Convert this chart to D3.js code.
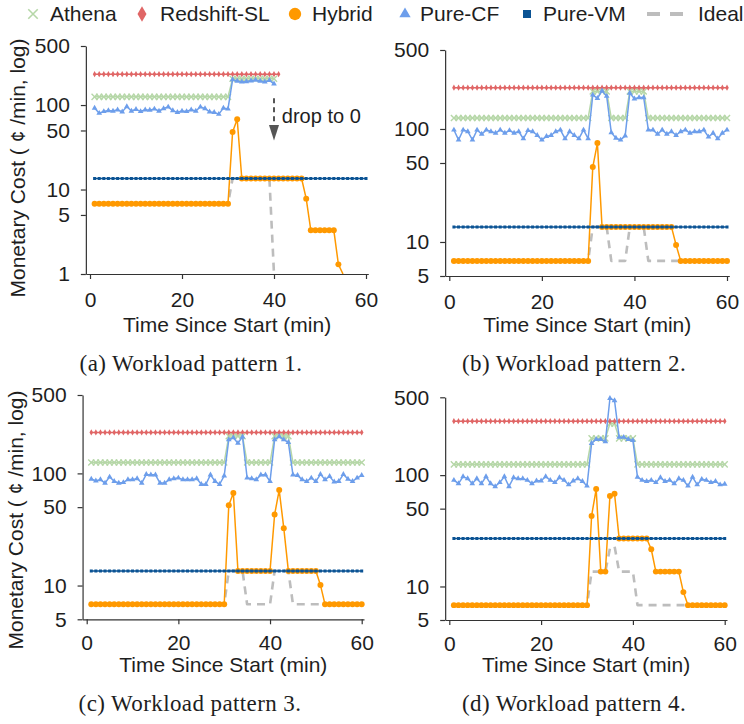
<!DOCTYPE html>
<html><head><meta charset="utf-8">
<script src="https://cdn.jsdelivr.net/npm/d3@7"></script>
<style>
body{margin:0;background:#fff;}
svg{display:block;font-family:"Liberation Sans",Arial,sans-serif;}
</style></head><body>
<svg id="c" width="744" height="724"></svg>
<script>
const N = null;
const minutes = [1,2,3,4,5,6,7,8,9,10,11,12,13,14,15,16,17,18,19,20,
21,22,23,24,25,26,27,28,29,30,31,32,33,34,35,36,37,38,39,40,
41,42,43,44,45,46,47,48,49,50,51,52,53,54,55,56,57,58,59,60];
const xTicks = [0,20,40,60];
const yTicksA = [1,5,10,50,100,500];
const yTicksB = [5,10,50,100,500];
const seriesNames = ["Athena","Redshift-SL","Hybrid","Pure-CF","Pure-VM","Ideal"];

// ---- Panel (a) ----
const athA = [125,125,125,125,125,125,125,125,125,125,
125,125,125,125,125,125,125,125,125,125,
125,125,125,125,125,125,125,125,125,125,
205,205,205,205,205,205,205,205,205,205,
N,N,N,N,N,N,N,N,N,N,
N,N,N,N,N,N,N,N,N,N];
const redA = [232,232,232,232,232,232,232,232,232,232,
232,232,232,232,232,232,232,232,232,232,
232,232,232,232,232,232,232,232,232,232,
232,232,232,232,232,232,232,232,232,232,
232,N,N,N,N,N,N,N,N,N,
N,N,N,N,N,N,N,N,N,N];
const hybA = [6.8,6.8,6.8,6.8,6.8,6.8,6.8,6.8,6.8,6.8,
6.8,6.8,6.8,6.8,6.8,6.8,6.8,6.8,6.8,6.8,
6.8,6.8,6.8,6.8,6.8,6.8,6.8,6.8,6.8,6.8,
48,68,13.5,13.5,13.5,13.5,13.5,13.5,13.5,13.5,
13.5,13.5,13.5,13.5,13.5,13.5,7.8,3.3,3.3,3.3,
3.3,3.3,3.3,1.3,0,N,N,N,N,N];
const cfA = [92,80,84,86,85,88,83,96,85,89,
84,88,87,90,85,91,95,86,82,85,
84,88,85,95,91,83,82,78,92,90,
200,192,188,190,194,198,192,188,196,178,
N,N,N,N,N,N,N,N,N,N,
N,N,N,N,N,N,N,N,N,N];
const vmA = [13.5,13.5,13.5,13.5,13.5,13.5,13.5,13.5,13.5,13.5,
13.5,13.5,13.5,13.5,13.5,13.5,13.5,13.5,13.5,13.5,
13.5,13.5,13.5,13.5,13.5,13.5,13.5,13.5,13.5,13.5,
13.5,13.5,13.5,13.5,13.5,13.5,13.5,13.5,13.5,13.5,
13.5,13.5,13.5,13.5,13.5,13.5,13.5,13.5,13.5,13.5,
13.5,13.5,13.5,13.5,13.5,13.5,13.5,13.5,13.5,13.5];
const idealA = [6.8,6.8,6.8,6.8,6.8,6.8,6.8,6.8,6.8,6.8,
6.8,6.8,6.8,6.8,6.8,6.8,6.8,6.8,6.8,6.8,
6.8,6.8,6.8,6.8,6.8,6.8,6.8,6.8,6.8,6.8,
13.5,13.5,13.5,13.5,13.5,13.5,13.5,13.5,13.5,0,
N,N,N,N,N,N,N,N,N,N,
N,N,N,N,N,N,N,N,N,N];

// ---- Panel (b) ----
const athB = [125,125,125,125,125,125,125,125,125,125,
125,125,125,125,125,125,125,125,125,125,
125,125,125,125,125,125,125,125,125,125,
215,215,215,215,125,125,125,125,215,215,
215,215,125,125,125,125,125,125,125,125,
125,125,125,125,125,125,125,125,125,125];
const redB = [232,232,232,232,232,232,232,232,232,232,
232,232,232,232,232,232,232,232,232,232,
232,232,232,232,232,232,232,232,232,232,
232,232,232,232,232,232,232,232,232,232,
232,232,232,232,232,232,232,232,232,232,
232,232,232,232,232,232,232,232,232,232];
const hybB = [6.8,6.8,6.8,6.8,6.8,6.8,6.8,6.8,6.8,6.8,
6.8,6.8,6.8,6.8,6.8,6.8,6.8,6.8,6.8,6.8,
6.8,6.8,6.8,6.8,6.8,6.8,6.8,6.8,6.8,6.8,
46,75,13.6,13.6,13.6,13.6,13.6,13.6,13.6,13.6,
13.6,13.6,13.6,13.6,13.6,13.6,13.6,13.6,9.4,6.8,
6.8,6.8,6.8,6.8,6.8,6.8,6.8,6.8,6.8,6.8];
const cfB = [98,80,98,95,80,98,90,98,95,92,
98,92,97,92,95,82,97,95,88,80,
86,88,95,98,82,95,88,82,98,82,
200,187,218,195,93,83,80,87,208,185,
190,190,98,98,90,98,90,95,88,95,
98,92,95,95,98,85,92,82,92,98];
const vmB = [13.6,13.6,13.6,13.6,13.6,13.6,13.6,13.6,13.6,13.6,
13.6,13.6,13.6,13.6,13.6,13.6,13.6,13.6,13.6,13.6,
13.6,13.6,13.6,13.6,13.6,13.6,13.6,13.6,13.6,13.6,
13.6,13.6,13.6,13.6,13.6,13.6,13.6,13.6,13.6,13.6,
13.6,13.6,13.6,13.6,13.6,13.6,13.6,13.6,13.6,13.6,
13.6,13.6,13.6,13.6,13.6,13.6,13.6,13.6,13.6,13.6];
const idealB = [6.8,6.8,6.8,6.8,6.8,6.8,6.8,6.8,6.8,6.8,
6.8,6.8,6.8,6.8,6.8,6.8,6.8,6.8,6.8,6.8,
6.8,6.8,6.8,6.8,6.8,6.8,6.8,6.8,6.8,6.8,
13.6,13.6,13.6,13.6,6.8,6.8,6.8,6.8,13.6,13.6,
13.6,13.6,6.8,6.8,6.8,6.8,6.8,6.8,6.8,6.8,
6.8,6.8,6.8,6.8,6.8,6.8,6.8,6.8,6.8,6.8];

// ---- Panel (c) ----
const athC = [125,125,125,125,125,125,125,125,125,125,
125,125,125,125,125,125,125,125,125,125,
125,125,125,125,125,125,125,125,125,125,
215,215,215,215,125,125,125,125,125,125,
215,215,215,215,125,125,125,125,125,125,
125,125,125,125,125,125,125,125,125,125];
const redC = [232,232,232,232,232,232,232,232,232,232,
232,232,232,232,232,232,232,232,232,232,
232,232,232,232,232,232,232,232,232,232,
232,232,232,232,232,232,232,232,232,232,
232,232,232,232,232,232,232,232,232,232,
232,232,232,232,232,232,232,232,232,232];
const hybC = [6.8,6.8,6.8,6.8,6.8,6.8,6.8,6.8,6.8,6.8,
6.8,6.8,6.8,6.8,6.8,6.8,6.8,6.8,6.8,6.8,
6.8,6.8,6.8,6.8,6.8,6.8,6.8,6.8,6.8,6.8,
52,67,13.5,13.5,13.5,13.5,13.5,13.5,13.5,13.5,
43,71,32.5,13.5,13.5,13.5,13.5,13.5,13.5,13.5,
10.1,6.8,6.8,6.8,6.8,6.8,6.8,6.8,6.8,6.8];
const cfC = [89,86,88,82,93,85,82,83,88,88,
90,82,98,97,97,82,82,88,90,91,
88,88,88,90,80,80,97,85,80,95,
200,208,186,212,91,90,88,97,97,85,
200,213,200,189,97,96,88,85,91,85,
98,88,94,84,85,98,89,85,91,96];
const vmC = [13.5,13.5,13.5,13.5,13.5,13.5,13.5,13.5,13.5,13.5,
13.5,13.5,13.5,13.5,13.5,13.5,13.5,13.5,13.5,13.5,
13.5,13.5,13.5,13.5,13.5,13.5,13.5,13.5,13.5,13.5,
13.5,13.5,13.5,13.5,13.5,13.5,13.5,13.5,13.5,13.5,
13.5,13.5,13.5,13.5,13.5,13.5,13.5,13.5,13.5,13.5,
13.5,13.5,13.5,13.5,13.5,13.5,13.5,13.5,13.5,13.5];
const idealC = [6.8,6.8,6.8,6.8,6.8,6.8,6.8,6.8,6.8,6.8,
6.8,6.8,6.8,6.8,6.8,6.8,6.8,6.8,6.8,6.8,
6.8,6.8,6.8,6.8,6.8,6.8,6.8,6.8,6.8,6.8,
13.5,13.5,13.5,13.5,6.8,6.8,6.8,6.8,6.8,6.8,
13.5,13.5,13.5,13.5,6.8,6.8,6.8,6.8,6.8,6.8,
6.8,6.8,6.8,6.8,6.8,6.8,6.8,6.8,6.8,6.8];

// ---- Panel (d) ----
const athD = [125,125,125,125,125,125,125,125,125,125,
125,125,125,125,125,125,125,125,125,125,
125,125,125,125,125,125,125,125,125,125,
214,214,214,214,290,290,214,214,214,214,
125,125,125,125,125,125,125,125,125,125,
125,125,125,125,125,125,125,125,125,125];
const redD = [305,305,305,305,305,305,305,305,305,305,
305,305,305,305,305,305,305,305,305,305,
305,305,305,305,305,305,305,305,305,305,
305,305,305,305,305,305,305,305,305,305,
305,305,305,305,305,305,305,305,305,305,
305,305,305,305,305,305,305,305,305,305];
const hybD = [6.8,6.8,6.8,6.8,6.8,6.8,6.8,6.8,6.8,6.8,
6.8,6.8,6.8,6.8,6.8,6.8,6.8,6.8,6.8,6.8,
6.8,6.8,6.8,6.8,6.8,6.8,6.8,6.8,6.8,6.8,
43,75,13.6,13.6,65,68,27,27,27,27,
27,27,27,21.6,13.6,13.6,13.6,13.6,13.6,13.6,
8.9,6.8,6.8,6.8,6.8,6.8,6.8,6.8,6.8,6.8];
const cfD = [90,84,97,93,84,93,84,97,84,79,
86,97,79,95,93,93,90,84,89,89,
97,90,86,95,90,82,89,93,88,80,
193,210,210,200,490,467,219,219,210,205,
96,90,88,90,86,95,88,90,84,93,
90,80,96,82,92,90,86,88,82,83];
const vmD = [27,27,27,27,27,27,27,27,27,27,
27,27,27,27,27,27,27,27,27,27,
27,27,27,27,27,27,27,27,27,27,
27,27,27,27,27,27,27,27,27,27,
27,27,27,27,27,27,27,27,27,27,
27,27,27,27,27,27,27,27,27,27];
const idealD = [6.8,6.8,6.8,6.8,6.8,6.8,6.8,6.8,6.8,6.8,
6.8,6.8,6.8,6.8,6.8,6.8,6.8,6.8,6.8,6.8,
6.8,6.8,6.8,6.8,6.8,6.8,6.8,6.8,6.8,6.8,
13.6,13.6,13.6,13.6,22,23,13.6,13.6,13.6,13.6,
6.8,6.8,6.8,6.8,6.8,6.8,6.8,6.8,6.8,6.8,
6.8,6.8,6.8,6.8,6.8,6.8,6.8,6.8,6.8,6.8];

// annotation in panel (a)
const dropMinute = 40;
const dropArrow = {from:120, head:58, to:38};
const dropLabel = {minute:41.7, value:75, text:"drop to 0"};

// ---- styles ----
const styles = {
  "Ideal":      {color:"#bdbdbd", width:2.6, dash:"8,6", symbol:null},
  "Athena":     {color:"#b6d7a8", width:1.5, symbol:d3.symbolTimes, size:26, strokeSym:true},
  "Redshift-SL":{color:"#e06666", width:1.5, symbol:d3.symbolDiamond, size:11},
  "Pure-CF":    {color:"#6d9eeb", width:1.5, symbol:d3.symbolTriangle, size:14},
  "Hybrid":     {color:"#ff9900", width:1.5, symbol:d3.symbolCircle, size:28},
  "Pure-VM":    {color:"#0b5394", width:1.5, symbol:d3.symbolSquare, size:9}
};
const drawOrder = ["Ideal","Athena","Redshift-SL","Pure-CF","Hybrid","Pure-VM"];

const panels = [
  {id:"a", series:{"Athena":athA,"Redshift-SL":redA,"Hybrid":hybA,"Pure-CF":cfA,"Pure-VM":vmA,"Ideal":idealA},
   yDomain:[1,500], yTicks:yTicksA, x0:90, x60:366, yTop:46, yBot:274, tickPad:13,
   caption:"(a) Workload pattern 1.", capX:191, capY:371, xTitleY:332, yTitle:{x:18,y:168}, note:true},
  {id:"b", series:{"Athena":athB,"Redshift-SL":redB,"Hybrid":hybB,"Pure-CF":cfB,"Pure-VM":vmB,"Ideal":idealB},
   yDomain:[5,500], yTicks:yTicksB, x0:449.3, x60:727, yTop:50, yBot:276, tickPad:13,
   caption:"(b) Workload pattern 2.", capX:574, capY:371, xTitleY:332},
  {id:"c", series:{"Athena":athC,"Redshift-SL":redC,"Hybrid":hybC,"Pure-CF":cfC,"Pure-VM":vmC,"Ideal":idealC},
   yDomain:[5,500], yTicks:yTicksB, x0:86.7, x60:361.7, yTop:395, yBot:619.3, tickPad:11,
   caption:"(c) Workload pattern 3.", capX:190, capY:711, xTitleY:672, yTitle:{x:16,y:520}},
  {id:"d", series:{"Athena":athD,"Redshift-SL":redD,"Hybrid":hybD,"Pure-CF":cfD,"Pure-VM":vmD,"Ideal":idealD},
   yDomain:[5,500], yTicks:yTicksB, x0:449.3, x60:724.7, yTop:397.3, yBot:620, tickPad:11,
   caption:"(d) Workload pattern 4.", capX:574, capY:711, xTitleY:672}
];

const svg = d3.select("#c");
const TXT = "#1e1e1e";
const AX = "#333";

panels.forEach(p => {
  const ppm = (p.x60 - p.x0) / 60;
  const x = d3.scaleLinear().domain([-0.9, 60.5]).range([p.x0 - 0.9*ppm, p.x0 + 60.5*ppm]);
  const y = d3.scaleLog().domain(p.yDomain).range([p.yBot, p.yTop]).clamp(true);
  const yv = v => y(v > 0 ? v : p.yDomain[0]);
  const g = svg.append("g");

  const clipId = "clip-" + p.id;
  g.append("clipPath").attr("id", clipId).append("rect")
    .attr("x", x.range()[0]).attr("y", p.yTop - 8)
    .attr("width", x.range()[1] - x.range()[0] + 4).attr("height", p.yBot - p.yTop + 8);

  const plot = g.append("g").attr("clip-path", `url(#${clipId})`);

  drawOrder.forEach(name => {
    const st = styles[name];
    const vals = p.series[name];
    const pts = minutes.map((m, i) => ({m, v: vals[i]}));
    const line = d3.line().defined(d => d.v != null).x(d => x(d.m)).y(d => yv(d.v));
    plot.append("path").datum(pts)
      .attr("d", line).attr("fill", "none")
      .attr("stroke", st.color).attr("stroke-width", st.width)
      .attr("stroke-dasharray", st.dash || null)
      .attr("stroke-linejoin", "round");
    if (st.symbol) {
      const sym = d3.symbol().type(st.symbol).size(st.size);
      plot.append("g").selectAll("path").data(pts.filter(d => d.v != null && d.v > 0)).join("path")
        .attr("transform", d => `translate(${x(d.m)},${yv(d.v)})`)
        .attr("d", sym)
        .attr("fill", st.strokeSym ? "none" : st.color)
        .attr("stroke", st.strokeSym ? st.color : "none")
        .attr("stroke-width", st.strokeSym ? 1.4 : 0);
    }
  });

  // axes
  const xAxis = d3.axisBottom(x).tickValues(xTicks).tickSizeInner(5).tickSizeOuter(0).tickPadding(p.tickPad);
  const gx = g.append("g").attr("transform", `translate(0,${p.yBot})`).call(xAxis);
  const yAxis = d3.axisLeft(y).tickValues(p.yTicks).tickFormat(d3.format("d")).tickSizeInner(5).tickSizeOuter(0).tickPadding(11);
  const gy = g.append("g").attr("transform", `translate(${x.range()[0]},0)`).call(yAxis);
  [gx, gy].forEach(a => {
    a.select(".domain").attr("stroke", AX).attr("stroke-width", 1.2);
    a.selectAll(".tick line").attr("stroke", AX).attr("stroke-width", 1.2);
    a.selectAll(".tick text").attr("fill", TXT).style("font-size", "21px")
      .style("font-family", '"Liberation Sans", Arial, sans-serif');
  });

  g.append("text").attr("x", (x.range()[0] + x.range()[1]) / 2).attr("y", p.xTitleY)
    .attr("text-anchor", "middle").attr("fill", TXT).style("font-size", "21px")
    .text("Time Since Start (min)");

  if (p.yTitle) {
    g.append("text").attr("transform", `translate(${p.yTitle.x},${p.yTitle.y}) rotate(-90)`)
      .attr("text-anchor", "middle").attr("dy", "0.35em").attr("fill", TXT).style("font-size", "21px")
      .text("Monetary Cost ( ¢ /min, log)");
  }

  g.append("text").attr("x", p.capX).attr("y", p.capY).attr("text-anchor", "middle")
    .attr("fill", TXT).style("font-family", '"Liberation Serif", "Times New Roman", serif')
    .style("font-size", "23px").style("letter-spacing", "0.4px")
    .text(p.caption);

  if (p.note) {
    const ax = x(dropMinute);
    g.append("line").attr("x1", ax).attr("x2", ax)
      .attr("y1", y(dropArrow.from)).attr("y2", y(dropArrow.head))
      .attr("stroke", "#555").attr("stroke-width", 2).attr("stroke-dasharray", "5,4");
    g.append("path")
      .attr("d", `M${ax-5},${y(dropArrow.head)}L${ax+5},${y(dropArrow.head)}L${ax},${y(dropArrow.to)}Z`)
      .attr("fill", "#555");
    g.append("text").attr("x", x(dropLabel.minute)).attr("y", y(dropLabel.value))
      .attr("dy", "0.35em").attr("fill", TXT).style("font-size", "20px").text(dropLabel.text);
  }
});

// legend
const legendPos = [
  {name:"Athena", mx:33, tx:50},
  {name:"Redshift-SL", mx:142, tx:160},
  {name:"Hybrid", mx:295, tx:312},
  {name:"Pure-CF", mx:405, tx:420},
  {name:"Pure-VM", mx:527, tx:543},
  {name:"Ideal", mx:665, tx:698}
];
const lg = svg.append("g");
const legendSizes = {"Athena":60, "Redshift-SL":70, "Hybrid":120, "Pure-CF":55, "Pure-VM":64};
legendPos.forEach(l => {
  const st = styles[l.name];
  if (l.name === "Ideal") {
    lg.append("line").attr("x1", l.mx - 18).attr("x2", l.mx + 18).attr("y1", 14).attr("y2", 14)
      .attr("stroke", st.color).attr("stroke-width", 4).attr("stroke-dasharray", "13,10");
  } else {
    lg.append("path").attr("transform", `translate(${l.mx},14)`)
      .attr("d", d3.symbol().type(st.symbol).size(legendSizes[l.name]))
      .attr("fill", st.strokeSym ? "none" : st.color)
      .attr("stroke", st.strokeSym ? st.color : "none").attr("stroke-width", st.strokeSym ? 1.6 : 0);
  }
  lg.append("text").attr("x", l.tx).attr("y", 21).attr("fill", TXT).style("font-size", "21px").text(l.name);
});
</script>
</body></html>
